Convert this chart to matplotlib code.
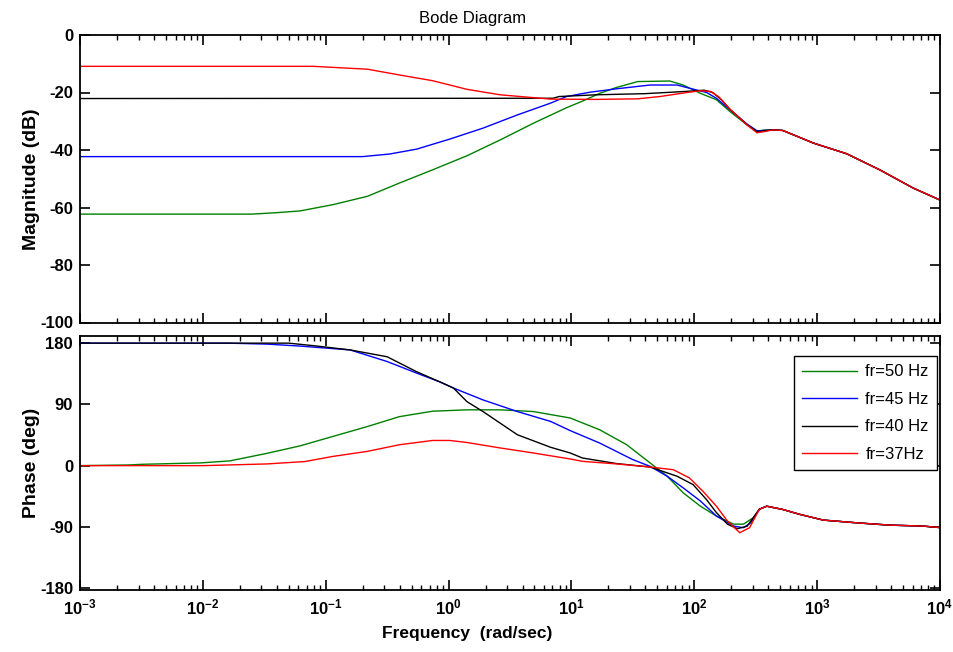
import numpy as np
import matplotlib
matplotlib.use('Agg')
import matplotlib.pyplot as plt
from matplotlib.ticker import FixedLocator, NullFormatter, FuncFormatter

plt.rcParams['font.family'] = ['Liberation Sans', 'DejaVu Sans']
plt.rcParams['mathtext.fontset'] = 'custom'
plt.rcParams['mathtext.rm'] = 'Liberation Sans:bold'
plt.rcParams['mathtext.it'] = 'Liberation Sans:bold'
plt.rcParams['mathtext.bf'] = 'Liberation Sans:bold'
plt.rcParams['mathtext.default'] = 'rm'
plt.rcParams['axes.unicode_minus'] = False

# ---------------- data (log10 of frequency in rad/s, values) ----------------
labels = ['fr=50 Hz', 'fr=45 Hz', 'fr=40 Hz', 'fr=37Hz']
colors = ['#008000', '#0000ff', '#000000', '#ff0000']

# common high-frequency tail (all curves coincide)
tail_lw = [2.72, 2.84, 2.97, 3.24, 3.51, 3.78, 4.0]
tail_mag = [-33.2, -35.3, -37.6, -41.3, -46.9, -53.2, -57.4]
tail_ph_lw = [2.72, 2.86, 3.05, 3.32, 3.59, 3.86, 4.0]
tail_ph = [-64.4, -71.7, -80.0, -84.0, -87.4, -88.8, -91.0]

mag50_lw = [-3.0, -1.6, -1.4, -1.21, -0.94, -0.66, -0.40, -0.13, 0.15, 0.42, 0.69, 0.96,
            1.09, 1.23, 1.37, 1.54, 1.80, 1.91, 2.05, 2.18, 2.29, 2.43, 2.51, 2.58, 2.64]
mag50 = [-62.3, -62.3, -61.8, -61.2, -59.0, -56.1, -51.5, -46.9, -42.0, -36.5, -30.7, -25.3,
         -23.0, -20.3, -18.2, -16.2, -16.0, -17.4, -20.3, -22.5, -26.6, -31.3, -33.5, -33.0, -33.0]

mag45_lw = [-3.0, -0.70, -0.48, -0.26, 0.01, 0.28, 0.56, 0.83, 0.96, 1.15, 1.37, 1.64,
            1.86, 1.96, 2.10, 2.18, 2.29, 2.43, 2.51, 2.58, 2.64]
mag45 = [-42.3, -42.3, -41.4, -39.7, -36.2, -32.4, -27.8, -23.7, -21.4, -19.9, -18.7, -17.4,
         -17.4, -18.5, -20.0, -22.0, -26.0, -31.0, -33.3, -33.2, -33.0]

mag40_lw = [-3.0, 0.85, 0.90, 1.2, 1.6, 1.9, 2.08, 2.15, 2.22, 2.29, 2.43, 2.51, 2.58, 2.64]
mag40 = [-22.1, -22.0, -21.4, -20.8, -20.4, -19.7, -19.2, -20.0, -22.5, -25.8, -31.2, -33.6,
         -33.3, -33.0]

mag37_lw = [-3.0, -1.10, -0.66, -0.40, -0.13, 0.15, 0.42, 0.83, 1.20, 1.54, 1.72, 1.94,
            2.05, 2.13, 2.20, 2.29, 2.43, 2.51, 2.57, 2.64]
mag37 = [-10.9, -10.9, -11.9, -13.9, -15.9, -18.9, -20.8, -22.3, -22.4, -22.2, -21.4, -20.0,
         -19.4, -19.6, -21.5, -25.8, -31.3, -34.0, -33.6, -33.0]

ph50_lw = [-3.0, -2.6, -2.49, -2.02, -1.78, -1.48, -1.21, -0.94, -0.66, -0.40, -0.13, 0.15,
           0.42, 0.69, 0.99, 1.23, 1.45, 1.64, 1.78, 1.91, 2.05, 2.18, 2.32, 2.40, 2.48,
           2.53, 2.59]
ph50 = [0.0, 1.0, 2.0, 4.0, 7.0, 18.0, 29.0, 43.0, 57.5, 72.0, 80.0, 82.0,
        82.0, 79.5, 70.0, 52.7, 30.7, 4.0, -15.6, -40.0, -59.6, -74.0, -86.0, -86.0, -76.6,
        -64.0, -59.6]

ph45_lw = [-3.0, -1.8, -1.48, -1.21, -0.80, -0.50, -0.26, -0.07, 0.04, 0.15, 0.28, 0.56,
           0.83, 0.99, 1.23, 1.50, 1.64, 1.78, 1.91, 2.05, 2.18, 2.32, 2.40, 2.46, 2.53, 2.59]
ph45 = [180.0, 180.0, 178.6, 175.7, 170.0, 153.0, 136.0, 123.0, 114.0, 106.0, 96.6, 79.5,
        65.0, 51.5, 33.2, 8.8, -1.0, -15.6, -32.7, -52.0, -74.0, -88.8, -91.2, -84.0, -64.0,
        -59.6]

ph40_lw = [-3.0, -1.3, -1.07, -0.80, -0.50, -0.26, -0.07, 0.04, 0.15, 0.28, 0.56, 0.83,
           0.99, 1.09, 1.37, 1.64, 1.86, 1.99, 2.10, 2.18, 2.27, 2.35, 2.43, 2.53, 2.59]
ph40 = [180.0, 180.0, 175.7, 170.0, 160.0, 138.0, 123.0, 114.0, 94.0, 79.5, 45.4, 27.0,
        18.6, 11.2, 3.0, -2.0, -15.6, -27.8, -50.0, -69.0, -86.0, -92.7, -89.0, -64.0, -59.6]

ph37_lw = [-3.0, -2.0, -1.48, -1.17, -0.94, -0.66, -0.40, -0.13, 0.01, 0.15, 0.42, 0.69,
           0.99, 1.09, 1.37, 1.64, 1.83, 1.96, 2.07, 2.18, 2.27, 2.37, 2.45, 2.53, 2.59]
ph37 = [0.0, 0.0, 2.5, 6.0, 13.6, 21.0, 30.7, 37.0, 37.0, 34.0, 26.0, 18.6,
        9.8, 6.3, 2.5, -2.0, -6.0, -18.0, -37.6, -59.6, -81.5, -98.5, -91.2, -64.0, -59.6]

mag_series = [(mag50_lw, mag50), (mag45_lw, mag45), (mag40_lw, mag40), (mag37_lw, mag37)]
ph_series = [(ph50_lw, ph50), (ph45_lw, ph45), (ph40_lw, ph40), (ph37_lw, ph37)]

mag_ticks = [0, -20, -40, -60, -80, -100]
ph_ticks = [180, 90, 0, -90, -180]
decade_exps = [-3, -2, -1, 0, 1, 2, 3, 4]

# ---------------- figure ----------------
W, H = 954, 652
fig = plt.figure(figsize=(W / 100, H / 100), dpi=100)
fig.patch.set_facecolor('white')

def px_rect(x0, y0, x1, y1):
    return [x0 / W, 1 - y1 / H, (x1 - x0) / W, (y1 - y0) / H]

ax1 = fig.add_axes(px_rect(80, 35, 940, 322.5))
ax2 = fig.add_axes(px_rect(80, 336, 940, 589.5))

for (lw_, v), c in zip(mag_series, colors):
    x = np.power(10.0, np.array(lw_ + tail_lw))
    ax1.plot(x, v + tail_mag, color=c, lw=1.0)
for (lw_, v), c, lab in zip(ph_series, colors, labels):
    x = np.power(10.0, np.array(lw_ + tail_ph_lw))
    ax2.plot(x, v + tail_ph, color=c, lw=1.0, label=lab)

major_x = [10.0 ** e for e in decade_exps]
minor_x = [m * 10.0 ** e for e in decade_exps[:-1] for m in range(2, 10)]

def fmt_pow(val, pos):
    e = int(round(np.log10(val)))
    return r'$10^{%d}$' % e

for ax in (ax1, ax2):
    ax.set_xscale('log')
    ax.set_xlim(1e-3, 1e4)
    ax.xaxis.set_major_locator(FixedLocator(major_x))
    ax.xaxis.set_minor_locator(FixedLocator(minor_x))
    ax.tick_params(axis='both', which='major', direction='in', top=True, right=True,
                   length=7, width=1.2, labelsize=12, pad=5)
    ax.tick_params(axis='x', which='minor', direction='in', top=True, bottom=True,
                   length=3.5, width=1.0)
    for s in ax.spines.values():
        s.set_linewidth(1.3)

ax1.set_ylim(-100, 0)
ax1.yaxis.set_major_locator(FixedLocator(mag_ticks))
ax1.xaxis.set_major_formatter(NullFormatter())
ax1.xaxis.set_minor_formatter(NullFormatter())

ax2.set_ylim(-182, 190.5)
ax2.yaxis.set_major_locator(FixedLocator(ph_ticks))
ax2.xaxis.set_major_formatter(FuncFormatter(fmt_pow))
ax2.xaxis.set_minor_formatter(NullFormatter())
ax2.tick_params(axis='x', which='major', pad=6)

for ax in (ax1, ax2):
    for lab in ax.get_yticklabels():
        lab.set_fontweight('bold')

ax1.set_ylabel('Magnitude (dB)', fontsize=14, fontweight='bold')
ax1.yaxis.set_label_coords(-0.046, 0.5)
ax2.set_ylabel('Phase (deg)', fontsize=14, fontweight='bold')
ax2.yaxis.set_label_coords(-0.046, 0.5)
ax2.set_xlabel('Frequency  (rad/sec)', fontsize=12.5, fontweight='bold')
ax2.xaxis.set_label_coords((467 - 80) / 860, -0.145)

fig.text(473 / W, 1 - 18 / H, 'Bode Diagram', ha='center', va='center', fontsize=12)

leg = ax2.legend(loc='upper right', bbox_to_anchor=(0.9965, 0.921), borderaxespad=0,
                 fontsize=12, labelspacing=0.75, handlelength=3.3, handletextpad=0.5,
                 borderpad=0.5, fancybox=False, framealpha=1, edgecolor='black')
leg.get_frame().set_linewidth(1.0)

fig.savefig('out.png', dpi=100, facecolor='white')
